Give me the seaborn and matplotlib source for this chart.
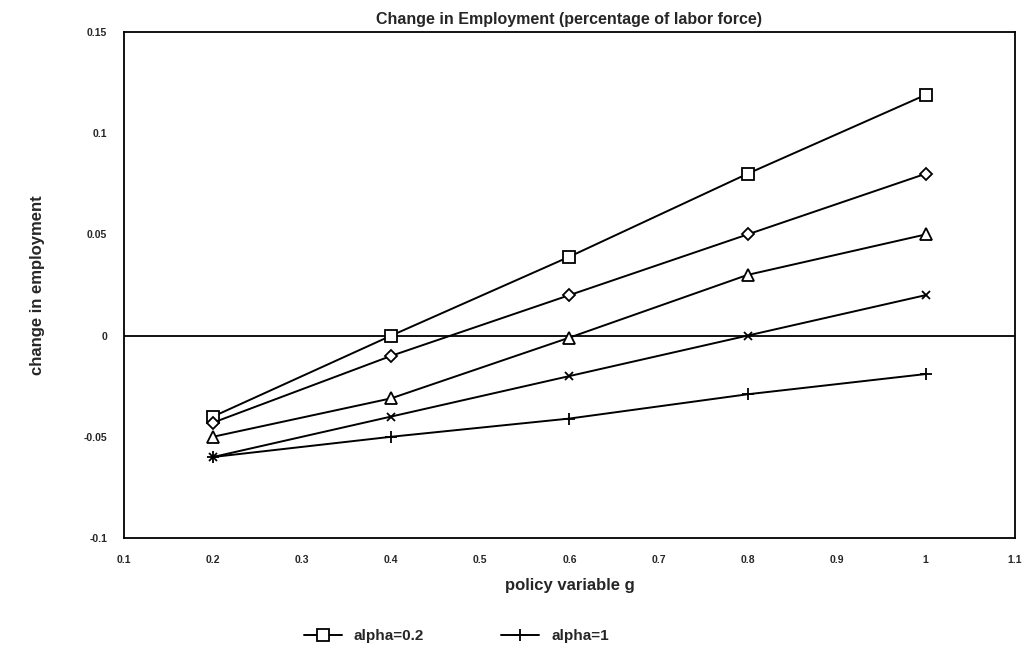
import numpy as np
import pandas as pd
import matplotlib
matplotlib.use("Agg")
import matplotlib.pyplot as plt
import seaborn as sns

g = [0.2, 0.4, 0.6, 0.8, 1.0]
alpha_02 = [-0.040, 0.000, 0.039, 0.080, 0.119]
alpha_04 = [-0.043, -0.010, 0.020, 0.050, 0.080]
alpha_06 = [-0.050, -0.031, -0.001, 0.030, 0.050]
alpha_08 = [-0.060, -0.040, -0.020, 0.000, 0.020]
alpha_1 = [-0.060, -0.050, -0.041, -0.029, -0.019]

x_ticks = [0.1, 0.2, 0.3, 0.4, 0.5, 0.6, 0.7, 0.8, 0.9, 1.0, 1.1]
x_labels = ["0.1", "0.2", "0.3", "0.4", "0.5", "0.6", "0.7", "0.8", "0.9", "1", "1.1"]
y_ticks = [-0.1, -0.05, 0, 0.05, 0.1, 0.15]
y_labels = ["-0.1", "-0.05", "0", "0.05", "0.1", "0.15"]

sns.set_style("white")
plt.rcParams['font.family'] = ['Liberation Sans', 'DejaVu Sans']

fig = plt.figure(figsize=(10.25, 6.56), dpi=100)
ax = fig.add_axes([0.121, 0.180, 0.869, 0.771])

series = [
    ("alpha=0.2", alpha_02, "s", 8),
    ("alpha=0.4", alpha_04, "D", 6),
    ("alpha=0.6", alpha_06, "^", 8),
    ("alpha=0.8", alpha_08, "x", 6),
    ("alpha=1", alpha_1, "+", 9),
]

# horizontal reference line at zero
ax.axhline(0, color="black", lw=1.3, zorder=1)

for name, vals, mk, ms in series:
    df = pd.DataFrame({"g": g, "val": vals})
    sns.lineplot(data=df, x="g", y="val", ax=ax, color="black", lw=1.4,
                 marker=mk, markersize=ms, markerfacecolor="white",
                 markeredgecolor="black", markeredgewidth=1.3,
                 label=name, legend=False, zorder=3)

ax.set_xlim(0.1, 1.1)
ax.set_ylim(-0.1, 0.15)
ax.set_xticks(x_ticks)
ax.set_xticklabels(x_labels, fontsize=7.5, fontweight="bold")
ax.set_yticks(y_ticks)
ax.set_yticklabels(y_labels, fontsize=7.5, fontweight="bold")
ax.tick_params(axis="both", direction="in", length=8, width=1.2, color="black", pad=12)
for s in ax.spines.values():
    s.set_color("black")
    s.set_linewidth(1.3)

ax.set_title("Change in Employment (percentage of labor force)", fontsize=11.5,
             fontweight="bold", pad=6)
ax.set_xlabel("policy variable g", fontsize=12, fontweight="bold", labelpad=10)
ax.set_ylabel("change in employment", fontsize=12, fontweight="bold", labelpad=28)

lines = ax.get_lines()
handles = [lines[1], lines[5]]
fig.legend(handles, ["alpha=0.2", "alpha=1"], loc="center", bbox_to_anchor=(0.445, 0.03),
           ncol=2, frameon=False, prop={"size": 11, "weight": "bold"},
           columnspacing=5, handlelength=2.5)

fig.savefig("out.png", dpi=100)
